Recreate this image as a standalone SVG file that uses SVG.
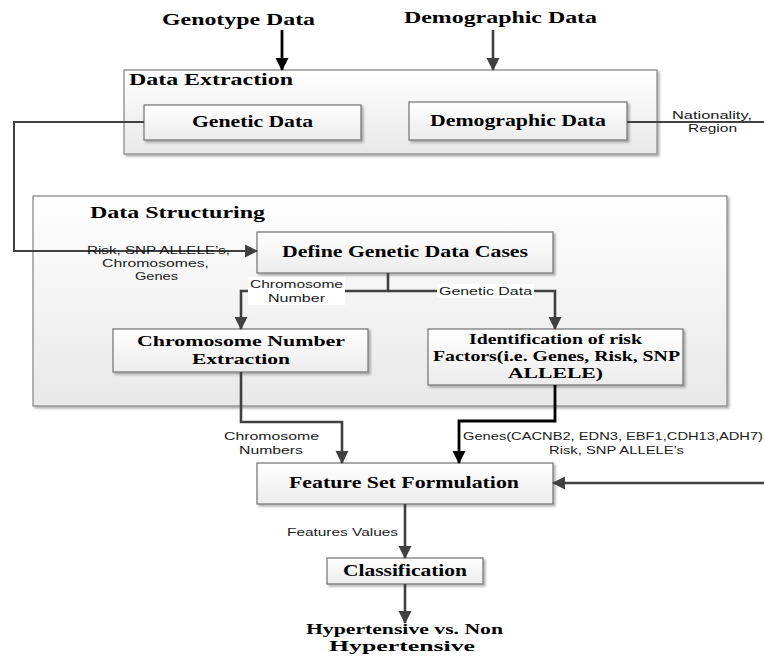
<svg xmlns="http://www.w3.org/2000/svg" width="764" height="659" viewBox="0 0 764 659">
<defs>
  <linearGradient id="gCont" x1="0" y1="0" x2="0" y2="1">
    <stop offset="0" stop-color="#ffffff"/>
    <stop offset="1" stop-color="#e8e8e8"/>
  </linearGradient>
  <linearGradient id="gBox" x1="0" y1="0" x2="0" y2="1">
    <stop offset="0" stop-color="#ffffff"/>
    <stop offset="1" stop-color="#ececec"/>
  </linearGradient>
  <filter id="sh" x="-5%" y="-10%" width="115%" height="130%">
    <feDropShadow dx="2" dy="2" stdDeviation="1.2" flood-color="#000" flood-opacity="0.3"/>
  </filter>
  <marker id="aG" markerWidth="14" markerHeight="14" viewBox="0 0 14 14" refX="12" refY="7" orient="auto" markerUnits="userSpaceOnUse">
    <path d="M0,0.5 L13,7 L0,13.5 Z" fill="#404040"/>
  </marker>
  <marker id="aK" markerWidth="14" markerHeight="14" viewBox="0 0 14 14" refX="12" refY="7" orient="auto" markerUnits="userSpaceOnUse">
    <path d="M0,0.5 L13,7 L0,13.5 Z" fill="#000000"/>
  </marker>
</defs>
<style>
  .cont { fill: url(#gCont); stroke: #8c8c8c; stroke-width: 1.3; filter: url(#sh); }
  .box { fill: url(#gBox); stroke: #7a7a7a; stroke-width: 1.3; filter: url(#sh); }
  .t { font-family: "Liberation Serif", "Times New Roman", serif; font-weight: bold; font-size: 17px; fill: #000; }
  .tm { font-family: "Liberation Serif", "Times New Roman", serif; font-weight: bold; font-size: 14.5px; fill: #000; }
  .s { font-family: "Liberation Sans", Arial, sans-serif; font-size: 11px; fill: #1a1a1a; }
  .g { fill: none; stroke: #404040; stroke-width: 2.6; }
  .k { fill: none; stroke: #000; stroke-width: 2.8; }
  .thin { fill: none; stroke: #404040; stroke-width: 2; }
  .wb { fill: #ffffff; }
</style>

<!-- Title inputs -->
<g id="genotype-input">
  <text class="t" x="162" y="25" textLength="153" lengthAdjust="spacingAndGlyphs">Genotype Data</text>
</g>
<g id="demographic-input">
  <text class="t" x="404" y="23" textLength="193" lengthAdjust="spacingAndGlyphs">Demographic Data</text>
</g>

<!-- Containers -->
<g id="data-extraction">
  <rect class="cont" x="124" y="70" width="533" height="84"/>
  <text class="t" x="129" y="85" textLength="164" lengthAdjust="spacingAndGlyphs">Data Extraction</text>
</g>
<g id="data-structuring">
  <rect class="cont" x="33" y="196" width="694" height="210"/>
  <text class="t" x="90" y="218" textLength="175" lengthAdjust="spacingAndGlyphs">Data Structuring</text>
</g>

<!-- Nodes -->
<g id="genetic-data">
  <rect class="box" x="144" y="105" width="217" height="35"/>
  <text class="t" x="192" y="127" textLength="121" lengthAdjust="spacingAndGlyphs">Genetic Data</text>
</g>
<g id="demographic-data">
  <rect class="box" x="409" y="102" width="218" height="38"/>
  <text class="t" x="430" y="126" textLength="176" lengthAdjust="spacingAndGlyphs">Demographic Data</text>
</g>
<g id="define-cases">
  <rect class="box" x="257" y="232" width="296" height="41"/>
  <text class="t" x="282" y="257" textLength="246" lengthAdjust="spacingAndGlyphs">Define Genetic Data Cases</text>
</g>
<g id="chromosome-extraction">
  <rect class="box" x="113" y="329" width="255" height="43"/>
  <text class="tm" x="137" y="346" textLength="208" lengthAdjust="spacingAndGlyphs">Chromosome Number</text>
  <text class="tm" x="192" y="364" textLength="98" lengthAdjust="spacingAndGlyphs">Extraction</text>
</g>
<g id="risk-identification">
  <rect class="box" x="428" y="329" width="255" height="56"/>
  <text class="tm" x="469" y="344" textLength="173" lengthAdjust="spacingAndGlyphs">Identification of risk</text>
  <text class="tm" x="433" y="361" textLength="247" lengthAdjust="spacingAndGlyphs">Factors(i.e. Genes, Risk, SNP</text>
  <text class="tm" x="508" y="378" textLength="95" lengthAdjust="spacingAndGlyphs">ALLELE)</text>
</g>
<g id="feature-set">
  <rect class="box" x="257" y="463" width="296" height="41"/>
  <text class="t" x="289" y="488" textLength="230" lengthAdjust="spacingAndGlyphs">Feature Set Formulation</text>
</g>
<g id="classification">
  <rect class="box" x="327" y="558" width="156" height="26"/>
  <text class="t" x="343" y="576" textLength="124" lengthAdjust="spacingAndGlyphs">Classification</text>
</g>
<g id="output">
  <text class="tm" x="306" y="634" textLength="197" lengthAdjust="spacingAndGlyphs">Hypertensive vs. Non</text>
  <text class="tm" x="329" y="651" textLength="146" lengthAdjust="spacingAndGlyphs">Hypertensive</text>
</g>

<!-- Connectors -->
<g id="connectors">
  <path class="k" d="M282,30 L282,70" marker-end="url(#aK)"/>
  <path class="g" d="M493,30 L493,70" marker-end="url(#aG)"/>
  <path class="thin" d="M144,122 L14,122 L14,251 L257,251" marker-end="url(#aG)"/>
  <path class="thin" d="M627,122 L764,122"/>
  <path class="g" d="M388,273 L388,291 L241,291 L241,329" marker-end="url(#aG)"/>
  <path class="g" d="M388,291 L555,291 L555,329" marker-end="url(#aG)"/>
  <path class="g" d="M241,372 L241,422 L342,422 L342,463" marker-end="url(#aG)"/>
  <path class="k" d="M555,385 L555,421 L459,421 L459,463" marker-end="url(#aK)"/>
  <path class="g" d="M764,483 L553,483" marker-end="url(#aG)"/>
  <path class="g" d="M405,504 L405,558" marker-end="url(#aG)"/>
  <path class="g" d="M405,584 L405,623" marker-end="url(#aG)"/>

  <!-- connector labels -->
  <text class="s" x="672" y="119" textLength="80" lengthAdjust="spacingAndGlyphs">Nationality,</text>
  <text class="s" x="688" y="132" textLength="49" lengthAdjust="spacingAndGlyphs">Region</text>

  <text class="s" x="87" y="254" textLength="143" lengthAdjust="spacingAndGlyphs">Risk, SNP ALLELE’s,</text>
  <text class="s" x="102" y="267" textLength="107" lengthAdjust="spacingAndGlyphs">Chromosomes,</text>
  <text class="s" x="135" y="280" textLength="43" lengthAdjust="spacingAndGlyphs">Genes</text>

  <rect class="wb" x="248" y="277" width="97" height="28"/>
  <text class="s" x="250" y="288" textLength="93" lengthAdjust="spacingAndGlyphs">Chromosome</text>
  <text class="s" x="268" y="302" textLength="57" lengthAdjust="spacingAndGlyphs">Number</text>

  <rect class="wb" x="437" y="284" width="97" height="14"/>
  <text class="s" x="439" y="295" textLength="93" lengthAdjust="spacingAndGlyphs">Genetic Data</text>

  <text class="s" x="224" y="440" textLength="95" lengthAdjust="spacingAndGlyphs">Chromosome</text>
  <text class="s" x="239" y="454" textLength="64" lengthAdjust="spacingAndGlyphs">Numbers</text>

  <text class="s" x="463" y="440" textLength="300" lengthAdjust="spacingAndGlyphs">Genes(CACNB2, EDN3, EBF1,CDH13,ADH7)</text>
  <text class="s" x="549" y="454" textLength="135" lengthAdjust="spacingAndGlyphs">Risk, SNP ALLELE’s</text>

  <text class="s" x="287" y="536" textLength="111" lengthAdjust="spacingAndGlyphs">Features Values</text>
</g>
</svg>
